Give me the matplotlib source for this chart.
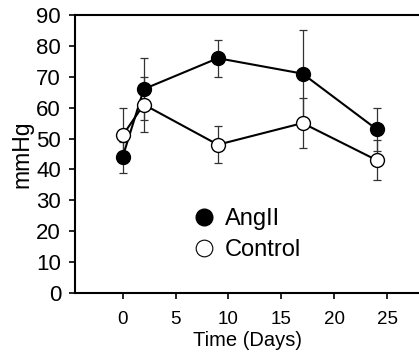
import matplotlib.pyplot as plt
from matplotlib.lines import Line2D

plt.rcParams["font.family"] = ["Liberation Sans", "DejaVu Sans"]

# Mean arterial pressure over time
days = [0, 2, 9, 17, 24]
angii_mean = [44, 66, 76, 71, 53]
angii_err = [5, 10, 6, 14, 7]
control_mean = [51, 61, 48, 55, 43]
control_err = [9, 9, 6, 8, 6.5]

fig = plt.figure(figsize=(4.19, 3.56), dpi=100)
ax = fig.add_axes([0.179, 0.177, 0.821, 0.781])

ax.errorbar(days, angii_mean, yerr=angii_err, fmt="none", ecolor="#333333",
            elinewidth=0.9, capsize=3, capthick=0.9, zorder=2)
ax.errorbar(days, control_mean, yerr=control_err, fmt="none", ecolor="#333333",
            elinewidth=0.9, capsize=3, capthick=0.9, zorder=2)
ax.plot(days, angii_mean, "-o", color="black", lw=1.5, ms=10,
        mfc="black", mec="black", zorder=3)
ax.plot(days, control_mean, "-o", color="black", lw=1.5, ms=10,
        mfc="white", mec="black", mew=1.0, zorder=3)

ax.set_xlim(-4.5, 28)
ax.set_ylim(0, 90)
ax.set_xticks([0, 5, 10, 15, 20, 25])
ax.set_yticks(range(0, 91, 10))

for side in ("left", "top", "bottom"):
    ax.spines[side].set_linewidth(1.5)
ax.spines["right"].set_visible(False)

ax.tick_params(axis="y", labelsize=16, length=4, width=1.2, pad=6)
ax.tick_params(axis="x", labelsize=13.5, length=4, width=1.2, pad=9)
ax.set_xlabel("Time (Days)", fontsize=14.5, labelpad=2)
ax.set_ylabel("mmHg", fontsize=16.5, labelpad=2)

handles = [
    Line2D([], [], ls="none", marker="o", ms=12, mfc="black", mec="black"),
    Line2D([], [], ls="none", marker="o", ms=12, mfc="white", mec="black", mew=0.8),
]
ax.legend(handles, ["AngII", "Control"], frameon=False, fontsize=17,
          loc="center left", bbox_to_anchor=(0.285, 0.21),
          handlelength=0.8, handletextpad=0.5, labelspacing=0.4)

fig.savefig("out.png", dpi=100)
